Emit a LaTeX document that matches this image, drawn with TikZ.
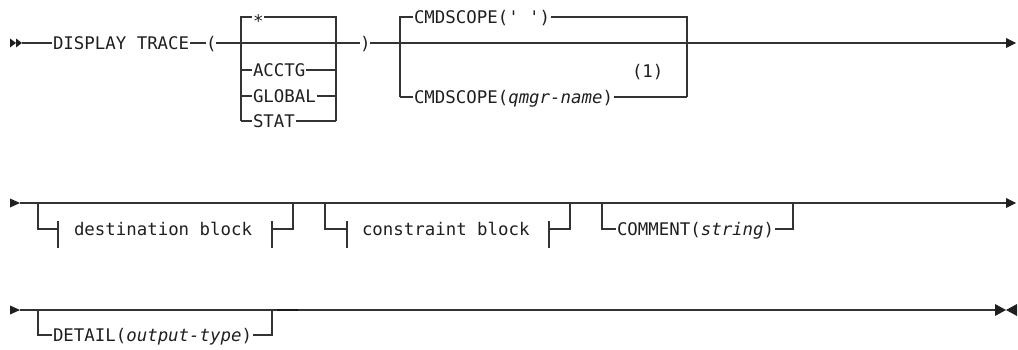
\documentclass[tikz,border=0pt]{standalone}
\usepackage{fontspec}
\setmonofont{DejaVu Sans Mono}
\newfontfamily\diagfont{DejaVu Sans Mono}
\begin{document}
\begin{tikzpicture}[x=1pt,y=-1pt,
  every node/.style={inner sep=0pt, outer sep=0pt},
  txt/.style={anchor=west, font=\diagfont\fontsize{17.4pt}{20pt}\selectfont, text height=12.7pt, text depth=0pt, inner xsep=1pt, text=black!88},
  ln/.style={draw=black!80, line width=1.1pt},
  tip/.style={fill=black!88}]
\useasboundingbox (0,0) rectangle (1018,350);

% ---------------- Row 1 ----------------
\coordinate (s1) at (10,43);
\coordinate (s1e) at (22,43);
\fill[tip,shift={(s1)}] (0,-4.5) -- (6,0) -- (0,4.5) -- cycle;
\fill[tip,shift={(s1)}] (6,-4.5) -- (12,0) -- (6,4.5) -- cycle;

\node[txt] (disp) at (52,43) {DISPLAY TRACE};
\node[txt,inner xsep=0pt] (lp) at (206,43) {(};
\node[txt,inner xsep=0pt] (rp) at (360,43) {)};

\coordinate (b1tl) at (241,17);
\coordinate (b1tr) at (336,17);
\coordinate (b1l) at (241,43);
\coordinate (b1r) at (336,43);
\coordinate (b1bl) at (241,121);
\coordinate (b1br) at (336,121);
\node[txt] (star) at (252,21) {*};
\node[txt] (acctg) at (252,70) {ACCTG};
\node[txt] (global) at (252,96) {GLOBAL};
\node[txt] (stat) at (252,121) {STAT};

\coordinate (b2tl) at (400,17);
\coordinate (b2tr) at (687,17);
\coordinate (b2bl) at (400,97);
\coordinate (b2br) at (687,97);
\node[txt] (cs1) at (413,17) {CMDSCOPE(' ')};
\node[txt] (cs2) at (413,97) {CMDSCOPE(\textit{qmgr-name})};
\node[txt] (note) at (631,71) {(1)};

\coordinate (e1) at (1006,43);
\fill[tip,shift={(e1)}] (0,-5) -- (10,0) -- (0,5) -- cycle;

\draw[ln] (s1e) -- (disp.west);
\draw[ln] (disp.east) -- (lp.west);
\draw[ln] (lp.east) -- (rp.west);
\draw[ln] (rp.east) -- (e1);
% first choice box
\draw[ln] (b1bl) -- (b1tl) -- (star.west |- b1tl);
\draw[ln] (star.east |- b1tr) -- (b1tr) -- (b1br);
\draw[ln] (acctg.west -| b1l) -- (acctg.west);
\draw[ln] (acctg.east) -- (acctg.east -| b1r);
\draw[ln] (global.west -| b1l) -- (global.west);
\draw[ln] (global.east) -- (global.east -| b1r);
\draw[ln] (b1bl) -- (stat.west);
\draw[ln] (stat.east) -- (b1br);
% cmdscope box
\draw[ln] (b2bl) -- (b2tl) -- (cs1.west);
\draw[ln] (cs1.east) -- (b2tr) -- (b2br);
\draw[ln] (b2bl) -- (cs2.west);
\draw[ln] (cs2.east) -- (b2br);

% ---------------- Row 2 ----------------
\coordinate (s2) at (10,203);
\fill[tip,shift={(s2)}] (0,-4.5) -- (10,0) -- (0,4.5) -- cycle;
\coordinate (s2e) at (20,203);
\coordinate (e2) at (1006,203);
\fill[tip,shift={(e2)}] (0,-5) -- (10,0) -- (0,5) -- cycle;
\draw[ln] (s2e) -- (e2);

% destination block
\coordinate (d1t) at (38,203);
\coordinate (d1b) at (38,229);
\coordinate (d1k) at (58,229);
\coordinate (d1kt) at (58,221);
\coordinate (d1kb) at (58,248);
\node[txt] (dest) at (73,229) {destination block};
\coordinate (d2k) at (272,229);
\coordinate (d2kt) at (272,221);
\coordinate (d2kb) at (272,248);
\coordinate (d2b) at (293,229);
\coordinate (d2t) at (293,203);
\draw[ln] (d1t) -- (d1b) -- (d1k);
\draw[ln] (d1kt) -- (d1kb);
\draw[ln] (d2kt) -- (d2kb);
\draw[ln] (d2k) -- (d2b) -- (d2t);

% constraint block
\coordinate (c1t) at (325,203);
\coordinate (c1b) at (325,229);
\coordinate (c1k) at (347,229);
\coordinate (c1kt) at (347,221);
\coordinate (c1kb) at (347,248);
\node[txt] (cons) at (361,229) {constraint block};
\coordinate (c2k) at (549,229);
\coordinate (c2kt) at (549,221);
\coordinate (c2kb) at (549,248);
\coordinate (c2b) at (570,229);
\coordinate (c2t) at (570,203);
\draw[ln] (c1t) -- (c1b) -- (c1k);
\draw[ln] (c1kt) -- (c1kb);
\draw[ln] (c2kt) -- (c2kb);
\draw[ln] (c2k) -- (c2b) -- (c2t);

% comment
\coordinate (m1t) at (602,203);
\coordinate (m1b) at (602,229);
\coordinate (m2t) at (793,203);
\coordinate (m2b) at (793,229);
\node[txt] (comm) at (616,229) {COMMENT(\textit{string})};
\draw[ln] (m1t) -- (m1b) -- (comm.west);
\draw[ln] (comm.east) -- (m2b) -- (m2t);

% ---------------- Row 3 ----------------
\coordinate (s3) at (10,310);
\fill[tip,shift={(s3)}] (0,-4.5) -- (10,0) -- (0,4.5) -- cycle;
\coordinate (s3e) at (20,310);
\coordinate (e3) at (995,310);
\fill[tip,shift={(e3)}] (0,-6) -- (11,0) -- (0,6) -- cycle;
\fill[tip,shift={(e3)}] (22,-6) -- (11,0) -- (22,6) -- cycle;
\draw[ln] (s3e) -- (e3);

\coordinate (t1t) at (38,310);
\coordinate (t1b) at (38,335);
\coordinate (t2t) at (272,310);
\coordinate (t2b) at (272,335);
\node[txt] (det) at (52,335) {DETAIL(\textit{output-type})};
\draw[ln] (t1t) -- (t1b) -- (det.west);
\draw[ln] (det.east) -- (t2b) -- (t2t);
\coordinate (k1) at (277,310);
\coordinate (k2) at (298,310);
\draw[ln,line width=2pt,draw=black!90] (k1) -- (k2);
\end{tikzpicture}
\end{document}
